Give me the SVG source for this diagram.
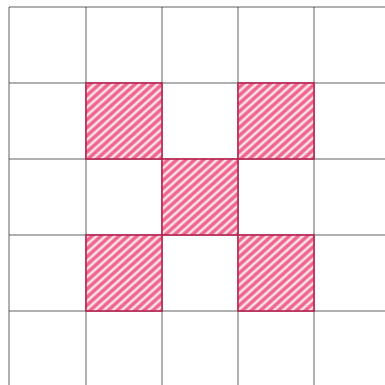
<svg xmlns="http://www.w3.org/2000/svg" width="385" height="385" viewBox="0 0 385 385">
  <style>
    .grid { stroke: #3a3a3a; stroke-width: 1; stroke-opacity: 0.8; fill: none; }
    .cell { fill: url(#hatch); stroke: #b8224f; stroke-width: 1.6; }
  </style>
  <defs>
    <pattern id="hatch" patternUnits="userSpaceOnUse" width="6" height="6" patternTransform="rotate(-42)">
      <rect width="6" height="6" fill="#fbe3ea"/>
      <line x1="0" y1="3" x2="6" y2="3" stroke="#ee628b" stroke-width="3.4"/>
    </pattern>
  </defs>
  <rect width="385" height="385" fill="#ffffff"/>
  <g id="grid" class="grid">
    <line x1="9" y1="7" x2="9" y2="385"/>
    <line x1="86" y1="7" x2="86" y2="385"/>
    <line x1="162" y1="7" x2="162" y2="385"/>
    <line x1="238" y1="7" x2="238" y2="385"/>
    <line x1="314" y1="7" x2="314" y2="385"/>
    <line x1="9" y1="7" x2="385" y2="7"/>
    <line x1="9" y1="83" x2="385" y2="83"/>
    <line x1="9" y1="159" x2="385" y2="159"/>
    <line x1="9" y1="235" x2="385" y2="235"/>
    <line x1="9" y1="311" x2="385" y2="311"/>
  </g>
  <g id="cells">
    <g id="cell-1-1"><rect class="cell" x="86" y="83" width="76" height="76"/></g>
    <g id="cell-3-1"><rect class="cell" x="238" y="83" width="76" height="76"/></g>
    <g id="cell-2-2"><rect class="cell" x="162" y="159" width="76" height="76"/></g>
    <g id="cell-1-3"><rect class="cell" x="86" y="235" width="76" height="76"/></g>
    <g id="cell-3-3"><rect class="cell" x="238" y="235" width="76" height="76"/></g>
  </g>
</svg>
